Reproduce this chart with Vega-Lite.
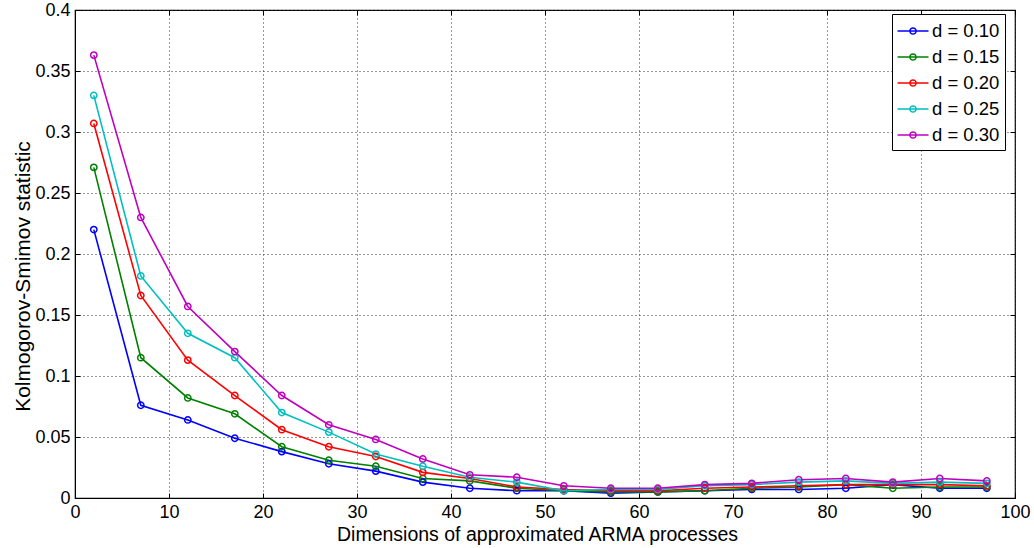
{
  "$schema": "https://vega.github.io/schema/vega-lite/v6.json",
  "width": 940,
  "height": 488,
  "autosize": {"type": "none"},
  "padding": {"left": 75, "top": 10, "right": 19, "bottom": 50},
  "background": "white",
  "config": {
    "font": "Liberation Sans",
    "view": {"stroke": "black", "strokeWidth": 1.2},
    "axis": {
      "labelFont": "Liberation Sans",
      "titleFont": "Liberation Sans",
      "labelFontSize": 18,
      "labelColor": "black",
      "titleColor": "black",
      "titleFontWeight": "normal",
      "domainColor": "black",
      "tickColor": "black",
      "gridColor": "#333",
      "gridDash": [1, 3],
      "gridWidth": 1
    },
    "legend": {
      "labelFont": "Liberation Sans",
      "labelFontSize": 18.5,
      "labelColor": "black"
    }
  },
  "data": {
    "values": [
      {"n": 2, "d": "d = 0.10", "ks": 0.220},
      {"n": 7, "d": "d = 0.10", "ks": 0.076},
      {"n": 12, "d": "d = 0.10", "ks": 0.064},
      {"n": 17, "d": "d = 0.10", "ks": 0.049},
      {"n": 22, "d": "d = 0.10", "ks": 0.038},
      {"n": 27, "d": "d = 0.10", "ks": 0.028},
      {"n": 32, "d": "d = 0.10", "ks": 0.022},
      {"n": 37, "d": "d = 0.10", "ks": 0.013},
      {"n": 42, "d": "d = 0.10", "ks": 0.008},
      {"n": 47, "d": "d = 0.10", "ks": 0.006},
      {"n": 52, "d": "d = 0.10", "ks": 0.006},
      {"n": 57, "d": "d = 0.10", "ks": 0.004},
      {"n": 62, "d": "d = 0.10", "ks": 0.005},
      {"n": 67, "d": "d = 0.10", "ks": 0.006},
      {"n": 72, "d": "d = 0.10", "ks": 0.007},
      {"n": 77, "d": "d = 0.10", "ks": 0.007},
      {"n": 82, "d": "d = 0.10", "ks": 0.008},
      {"n": 87, "d": "d = 0.10", "ks": 0.011},
      {"n": 92, "d": "d = 0.10", "ks": 0.008},
      {"n": 97, "d": "d = 0.10", "ks": 0.008},

      {"n": 2, "d": "d = 0.15", "ks": 0.271},
      {"n": 7, "d": "d = 0.15", "ks": 0.115},
      {"n": 12, "d": "d = 0.15", "ks": 0.082},
      {"n": 17, "d": "d = 0.15", "ks": 0.069},
      {"n": 22, "d": "d = 0.15", "ks": 0.042},
      {"n": 27, "d": "d = 0.15", "ks": 0.031},
      {"n": 32, "d": "d = 0.15", "ks": 0.026},
      {"n": 37, "d": "d = 0.15", "ks": 0.016},
      {"n": 42, "d": "d = 0.15", "ks": 0.014},
      {"n": 47, "d": "d = 0.15", "ks": 0.008},
      {"n": 52, "d": "d = 0.15", "ks": 0.006},
      {"n": 57, "d": "d = 0.15", "ks": 0.005},
      {"n": 62, "d": "d = 0.15", "ks": 0.005},
      {"n": 67, "d": "d = 0.15", "ks": 0.006},
      {"n": 72, "d": "d = 0.15", "ks": 0.008},
      {"n": 77, "d": "d = 0.15", "ks": 0.009},
      {"n": 82, "d": "d = 0.15", "ks": 0.011},
      {"n": 87, "d": "d = 0.15", "ks": 0.008},
      {"n": 92, "d": "d = 0.15", "ks": 0.009},
      {"n": 97, "d": "d = 0.15", "ks": 0.009},

      {"n": 2, "d": "d = 0.20", "ks": 0.307},
      {"n": 7, "d": "d = 0.20", "ks": 0.166},
      {"n": 12, "d": "d = 0.20", "ks": 0.113},
      {"n": 17, "d": "d = 0.20", "ks": 0.084},
      {"n": 22, "d": "d = 0.20", "ks": 0.056},
      {"n": 27, "d": "d = 0.20", "ks": 0.042},
      {"n": 32, "d": "d = 0.20", "ks": 0.034},
      {"n": 37, "d": "d = 0.20", "ks": 0.021},
      {"n": 42, "d": "d = 0.20", "ks": 0.016},
      {"n": 47, "d": "d = 0.20", "ks": 0.009},
      {"n": 52, "d": "d = 0.20", "ks": 0.007},
      {"n": 57, "d": "d = 0.20", "ks": 0.006},
      {"n": 62, "d": "d = 0.20", "ks": 0.006},
      {"n": 67, "d": "d = 0.20", "ks": 0.008},
      {"n": 72, "d": "d = 0.20", "ks": 0.009},
      {"n": 77, "d": "d = 0.20", "ks": 0.010},
      {"n": 82, "d": "d = 0.20", "ks": 0.011},
      {"n": 87, "d": "d = 0.20", "ks": 0.011},
      {"n": 92, "d": "d = 0.20", "ks": 0.011},
      {"n": 97, "d": "d = 0.20", "ks": 0.010},

      {"n": 2, "d": "d = 0.25", "ks": 0.330},
      {"n": 7, "d": "d = 0.25", "ks": 0.182},
      {"n": 12, "d": "d = 0.25", "ks": 0.135},
      {"n": 17, "d": "d = 0.25", "ks": 0.115},
      {"n": 22, "d": "d = 0.25", "ks": 0.070},
      {"n": 27, "d": "d = 0.25", "ks": 0.054},
      {"n": 32, "d": "d = 0.25", "ks": 0.036},
      {"n": 37, "d": "d = 0.25", "ks": 0.026},
      {"n": 42, "d": "d = 0.25", "ks": 0.017},
      {"n": 47, "d": "d = 0.25", "ks": 0.013},
      {"n": 52, "d": "d = 0.25", "ks": 0.006},
      {"n": 57, "d": "d = 0.25", "ks": 0.007},
      {"n": 62, "d": "d = 0.25", "ks": 0.007},
      {"n": 67, "d": "d = 0.25", "ks": 0.010},
      {"n": 72, "d": "d = 0.25", "ks": 0.011},
      {"n": 77, "d": "d = 0.25", "ks": 0.013},
      {"n": 82, "d": "d = 0.25", "ks": 0.014},
      {"n": 87, "d": "d = 0.25", "ks": 0.012},
      {"n": 92, "d": "d = 0.25", "ks": 0.013},
      {"n": 97, "d": "d = 0.25", "ks": 0.012},

      {"n": 2, "d": "d = 0.30", "ks": 0.363},
      {"n": 7, "d": "d = 0.30", "ks": 0.230},
      {"n": 12, "d": "d = 0.30", "ks": 0.157},
      {"n": 17, "d": "d = 0.30", "ks": 0.120},
      {"n": 22, "d": "d = 0.30", "ks": 0.084},
      {"n": 27, "d": "d = 0.30", "ks": 0.060},
      {"n": 32, "d": "d = 0.30", "ks": 0.048},
      {"n": 37, "d": "d = 0.30", "ks": 0.032},
      {"n": 42, "d": "d = 0.30", "ks": 0.019},
      {"n": 47, "d": "d = 0.30", "ks": 0.017},
      {"n": 52, "d": "d = 0.30", "ks": 0.010},
      {"n": 57, "d": "d = 0.30", "ks": 0.008},
      {"n": 62, "d": "d = 0.30", "ks": 0.008},
      {"n": 67, "d": "d = 0.30", "ks": 0.011},
      {"n": 72, "d": "d = 0.30", "ks": 0.012},
      {"n": 77, "d": "d = 0.30", "ks": 0.015},
      {"n": 82, "d": "d = 0.30", "ks": 0.016},
      {"n": 87, "d": "d = 0.30", "ks": 0.013},
      {"n": 92, "d": "d = 0.30", "ks": 0.016},
      {"n": 97, "d": "d = 0.30", "ks": 0.014}
    ]
  },
  "layer": [
    {
      "mark": {
        "type": "line",
        "strokeWidth": 1.6,
        "point": {"filled": false, "size": 40, "strokeWidth": 1.5}
      },
      "encoding": {
        "x": {
          "field": "n",
          "type": "quantitative",
          "scale": {"domain": [0, 100], "nice": false, "zero": false},
          "axis": {
            "orient": "bottom",
            "title": "Dimensions of approximated ARMA processes",
            "titleFontSize": 19.5,
            "titleX": 462,
            "titlePadding": 4,
            "values": [0, 10, 20, 30, 40, 50, 60, 70, 80, 90, 100],
            "tickSize": -5,
            "labelPadding": 10,
            "labelFlush": false,
            "labelOverlap": false,
            "grid": true
          }
        },
        "y": {
          "field": "ks",
          "type": "quantitative",
          "scale": {"domain": [0, 0.4], "nice": false, "zero": false},
          "axis": {
            "orient": "left",
            "title": "Kolmogorov-Smimov statistic",
            "titleFontSize": 21,
            "titleY": 266,
            "titlePadding": 1,
            "values": [0, 0.05, 0.1, 0.15, 0.2, 0.25, 0.3, 0.35, 0.4],
            "format": "~g",
            "tickSize": -5,
            "labelPadding": 10,
            "labelFlush": false,
            "labelOverlap": false,
            "grid": true
          }
        },
        "color": {
          "field": "d",
          "type": "nominal",
          "scale": {
            "domain": ["d = 0.10", "d = 0.15", "d = 0.20", "d = 0.25", "d = 0.30"],
            "range": ["#0000ff", "#008000", "#ff0000", "#00bfbf", "#bf00bf"]
          },
          "legend": {
            "orient": "none",
            "legendX": 817,
            "legendY": 4,
            "title": null,
            "strokeColor": "black",
            "fillColor": "white",
            "padding": 5,
            "rowPadding": 4,
            "symbolType": "M-1.41,0L1.41,0M0.28,0A0.28,0.28,0,1,1,-0.28,0A0.28,0.28,0,1,1,0.28,0",
            "symbolSize": 484,
            "symbolOffset": 4,
            "symbolStrokeWidth": 1.5,
            "symbolFillColor": "transparent",
            "labelOffset": 7
          }
        }
      }
    },
    {
      "mark": {"type": "point", "opacity": 0},
      "encoding": {
        "x": {
          "field": "n",
          "type": "quantitative",
          "axis": {
            "orient": "top",
            "title": null,
            "values": [0, 10, 20, 30, 40, 50, 60, 70, 80, 90, 100],
            "tickSize": -5,
            "labels": false,
            "domain": false,
            "grid": false
          }
        },
        "y": {
          "field": "ks",
          "type": "quantitative",
          "axis": {
            "orient": "right",
            "title": null,
            "values": [0, 0.05, 0.1, 0.15, 0.2, 0.25, 0.3, 0.35, 0.4],
            "tickSize": -5,
            "labels": false,
            "domain": false,
            "grid": false
          }
        }
      }
    }
  ],
  "resolve": {"axis": {"x": "independent", "y": "independent"}}
}
